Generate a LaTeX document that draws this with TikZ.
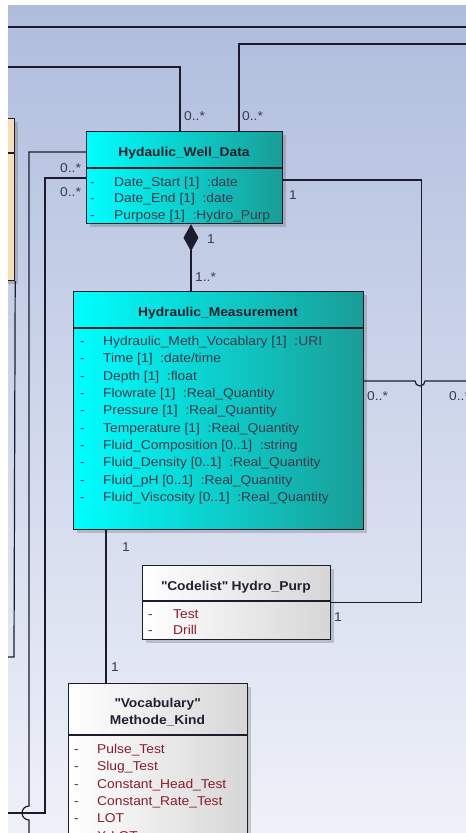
\documentclass[tikz,border=0pt]{standalone}
\usepackage{fontspec}
\setmainfont{Liberation Sans}[FakeStretch=1.08]
\usetikzlibrary{calc,arrows.meta,shadows}
\definecolor{bgtop}{HTML}{AFBDDD}
\definecolor{bgbot}{HTML}{EFF1F9}
\definecolor{ln}{HTML}{1C1C2C}
\definecolor{cyanL}{HTML}{00FFFF}
\definecolor{cyanR}{HTML}{1A9C96}
\definecolor{txt}{HTML}{3A3A4E}
\definecolor{ttxt}{HTML}{202030}
\definecolor{enumtxt}{HTML}{8A1C2C}
\definecolor{beige}{HTML}{F6DEBB}
\begin{document}
\begin{tikzpicture}[x=1pt,y=-1pt,
  every node/.style={font=\fontsize{12.8}{15}\selectfont},
  cls/.style={draw=ln, line width=1.2pt, anchor=north west, inner sep=0pt,
    drop shadow={shadow xshift=3pt, shadow yshift=-3pt, opacity=0.3, fill=black!60}},
  cyanbox/.style={cls, left color=cyanL, right color=cyanR},
  whitebox/.style={cls, left color=white, right color=black!16},
  conn/.style={draw=ln, line width=1.2pt},
  divl/.style={draw=ln, line width=1.2pt},
  mult/.style={anchor=base west, inner sep=0pt, text=txt},
  ttl/.style={anchor=base, inner sep=0pt, text=ttxt, font=\fontsize{12.8}{15}\selectfont\bfseries},
  attr/.style={anchor=base west, inner sep=0pt, text=txt},
  eattr/.style={anchor=base west, inner sep=0pt, text=enumtxt},
  dsh/.style={anchor=base west, inner sep=0pt, text=txt}
]
\useasboundingbox (0,0) rectangle (466,833);
\fill[white] (0,0) rectangle (466,833);
\shade[top color=bgtop, bottom color=bgbot] (8,5) rectangle (466,833);
\begin{scope}
\clip (8,5) rectangle (466,833);

% free ends
\coordinate (tl) at (8,27);
\coordinate (tr) at (466,27);
\coordinate (r44) at (466,44);
\coordinate (l67) at (8,67);
\coordinate (rEnd) at (466,381);
\coordinate (l813) at (8,813);
\coordinate (l657) at (8,657);
\coordinate (bot29) at (29,840);

% boxes
\node[cls, fill=beige, minimum width=34pt, minimum height=162pt] (beige) at (-20,118) {};
\draw[divl] (-20,153) -- (beige.east |- 0,153);

\node[cyanbox, minimum width=196pt, minimum height=92pt] (well) at (86,131) {};
\node[cyanbox, minimum width=290pt, minimum height=238pt] (meas) at (73,291) {};
\node[whitebox, minimum width=188pt, minimum height=74pt] (purp) at (142,565) {};
\node[whitebox, minimum width=179pt, minimum height=180pt] (kind) at (68,683) {};

% dividers
\draw[divl] ($(well.north west)+(0,37)$) -- ($(well.north east)+(0,37)$);
\draw[divl] ($(meas.north west)+(0,37)$) -- ($(meas.north east)+(0,37)$);
\draw[divl] ($(purp.north west)+(0,36)$) -- ($(purp.north east)+(0,36)$);
\draw[divl] ($(kind.north west)+(0,52)$) -- ($(kind.north east)+(0,52)$);

% titles
\node[ttl] (wellT) at (184,156.5) {Hydaulic\_Well\_Data};
\node[ttl] (measT) at (218,316.5) {Hydraulic\_Measurement};
\node[ttl] (purpT) at (236,590.5) {\textquotedbl Codelist\textquotedbl{} Hydro\_Purp};
\node[ttl] (kindT1) at (157.5,707.5) {\textquotedbl Vocabulary\textquotedbl};
\node[ttl] (kindT2) at (157.5,724.5) {Methode\_Kind};

% well attributes
\foreach \t [count=\i from 0] in {Date\_Start [1]~~:date, Date\_End [1]~~:date, Purpose [1]~~:Hydro\_Purp}{
  \node[dsh] (wd\i) at (90,186+16.5*\i) {-};
  \node[attr] (wa\i) at (114,186+16.5*\i) {\t};
}
% measurement attributes
\foreach \t [count=\i from 0] in {Hydraulic\_Meth\_Vocablary [1]~~:URI, Time [1]~~:date/time, Depth [1]~~:float, Flowrate [1]~~:Real\_Quantity, Pressure [1]~~:Real\_Quantity, Temperature [1]~~:Real\_Quantity, Fluid\_Composition [0..1]~~:string, Fluid\_Density [0..1]~~:Real\_Quantity, Fluid\_pH [0..1]~~:Real\_Quantity, Fluid\_Viscosity [0..1]~~:Real\_Quantity}{
  \node[dsh] (md\i) at (80,345.5+17.35*\i) {-};
  \node[attr] (ma\i) at (103,345.5+17.35*\i) {\t};
}
% codelist
\foreach \t [count=\i from 0] in {Test, Drill}{
  \node[dsh] (pd\i) at (148,618.5+16*\i) {-};
  \node[eattr] (pa\i) at (173,618.5+16*\i) {\t};
}
% vocabulary
\foreach \t [count=\i from 0] in {Pulse\_Test, Slug\_Test, Constant\_Head\_Test, Constant\_Rate\_Test, LOT, X-LOT}{
  \node[dsh] (kd\i) at (74,753.5+17.35*\i) {-};
  \node[eattr] (ka\i) at (97,753.5+17.35*\i) {\t};
}

% connectors
\draw[conn] (tl) -- (tr);
\draw[conn] ($(well.north west)+(153,0)$) |- (r44);
\draw[conn] ($(well.north west)+(94,0)$) |- (l67);
\draw[conn] ($(well.north west)+(0,21)$) -| (29,806)
   arc[start angle=90, end angle=270, radius=7pt] -- (bot29);
\draw[conn] ($(well.north west)+(0,47)$) -| (45,813) -- (l813);
\draw[conn] (beige.south east) -- (14,657) -- (l657);
\draw[conn] ($(well.north east)+(0,49)$) -| ($(purp.east)+(90,0)$) -- (purp.east);
\draw[conn] ($(meas.north east)+(0,90)$) -- (415,381)
   arc[start angle=180, end angle=360, radius=5pt] -- (rEnd);
\draw[conn, {Diamond[length=27pt,width=15pt]}-] ($(well.south west)+(105,0)$) -- ($(meas.north west)+(118,0)$);
\draw[conn] ($(meas.south west)+(33,0)$) -- ($(kind.north west)+(38,0)$);

% multiplicities
\node[mult] (m1) at (184,120.5) {0..*};
\node[mult] (m2) at (242,120.5) {0..*};
\node[mult] (m3) at (60,172.5) {0..*};
\node[mult] (m4) at (60,196.5) {0..*};
\node[mult] (m5) at (289,199.5) {1};
\node[mult] (m6) at (207,243.5) {1};
\node[mult] (m7) at (195,281.5) {1..*};
\node[mult] (m8) at (367,400.5) {0..*};
\node[mult] (m9) at (449,400.5) {0..*};
\node[mult] (m10) at (122,551.5) {1};
\node[mult] (m11) at (334,621.5) {1};
\node[mult] (m12) at (111,671.5) {1};
\end{scope}
\end{tikzpicture}
\end{document}
